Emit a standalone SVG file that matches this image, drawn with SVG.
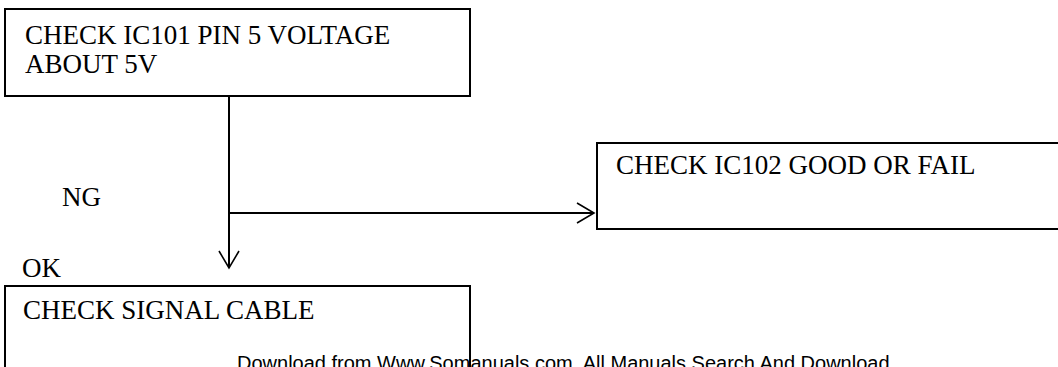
<svg xmlns="http://www.w3.org/2000/svg" width="1058" height="367" viewBox="0 0 1058 367">
  <style>
    .box { fill: #ffffff; stroke: #000000; stroke-width: 2; }
    .lbl { font-family: "Liberation Serif", "Times New Roman", serif; font-size: 27px; fill: #000000; }
    .wire { fill: none; stroke: #000000; stroke-width: 2; }
    .foot { font-family: "Liberation Sans", Arial, sans-serif; font-size: 20px; fill: #000000; }
  </style>
  <defs>
    <marker id="arrow" viewBox="0 0 20 22" refX="18" refY="11" markerWidth="20" markerHeight="22" markerUnits="userSpaceOnUse" orient="auto">
      <path d="M1,1 L18,11 L1,21" fill="none" stroke="#000000" stroke-width="1.6"/>
    </marker>
  </defs>
  <rect width="1058" height="367" fill="#ffffff"/>

  <g id="node-ic101">
    <rect class="box" x="5" y="9" width="465" height="87"/>
    <text class="lbl" x="25" y="44">CHECK IC101 PIN 5 VOLTAGE</text>
    <text class="lbl" x="25" y="73">ABOUT 5V</text>
  </g>

  <g id="node-ic102">
    <rect class="box" x="597" y="143" width="470" height="86"/>
    <text class="lbl" x="616" y="174">CHECK IC102 GOOD OR FAIL</text>
  </g>

  <g id="node-cable">
    <rect class="box" x="5" y="286" width="465" height="100"/>
    <text class="lbl" x="23" y="319">CHECK SIGNAL CABLE</text>
  </g>

  <g id="connectors">
    <path class="wire" d="M229,96 L229,268" marker-end="url(#arrow)"/>
    <path class="wire" d="M229,213 L594,213" marker-end="url(#arrow)"/>
    <text class="lbl" x="62" y="206">NG</text>
    <text class="lbl" x="22" y="277">OK</text>
  </g>

  <text class="foot" x="237" y="370">Download from Www.Somanuals.com. All Manuals Search And Download.</text>
</svg>
